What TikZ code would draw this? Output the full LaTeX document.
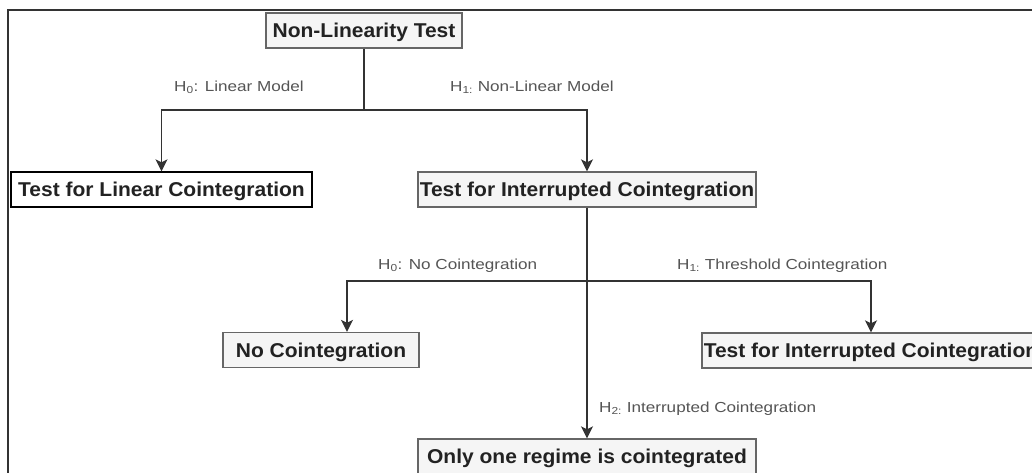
\documentclass[tikz,border=0pt]{standalone}
\usepackage{fontspec}
\setmainfont{Liberation Sans}
\newfontfamily\boxfont[FakeStretch=1.05]{Liberation Sans}
\newfontfamily\labfont[FakeStretch=1.18]{Liberation Sans}
\usetikzlibrary{arrows.meta}
\definecolor{boxfill}{HTML}{F5F5F5}
\definecolor{boxline}{HTML}{666666}
\definecolor{linecol}{HTML}{333333}
\definecolor{textdark}{HTML}{222222}
\definecolor{labgray}{HTML}{555555}
\begin{document}
\begin{tikzpicture}[x=1pt,y=-1pt,
  box/.style={draw=boxline, fill=boxfill, line width=1.3pt, inner sep=0pt,
    minimum height=35pt, text height=14pt, text depth=0pt,
    font=\boxfont\bfseries\fontsize{20}{24}\selectfont, text=textdark},
  lab/.style={font=\labfont\fontsize{14.5}{17}\selectfont, text=labgray,
    inner sep=0pt, anchor=base west},
  conn/.style={draw=linecol, line width=1.6pt},
  arr/.style={conn, -{Stealth[length=12pt,width=12pt,inset=3pt]}}]
\useasboundingbox (0,0) rectangle (1032,472);
\clip (0,0) rectangle (1032,472);
\fill[white] (0,0) rectangle (1032,472);
\draw[line width=1.6pt, draw=linecol] (8,480) -- (8,10) -- (1040,10);

\node[box, minimum width=196pt] (nlt) at (364,30.5) {Non-Linearity Test};
\node[box, fill=white, draw=black, minimum width=301pt] (tlc) at (161.5,189.5) {Test for Linear Cointegration};
\node[box, minimum width=338pt] (tic) at (587,189.5) {Test for Interrupted Cointegration};
\node[box, minimum width=196pt] (nc) at (321,350) {No Cointegration};
\node[box, minimum width=338pt] (tic2) at (871,350.5) {Test for Interrupted Cointegration};
\node[box, minimum width=338pt] (one) at (587,456.5) {Only one regime is cointegrated};

\coordinate (j1) at (364,110);
\coordinate (j2) at (587,281);
\draw[conn] (nlt.south) -- (j1);
\draw[arr] (j1) -| (tlc.north);
\draw[arr] (j1) -| (tic.north);
\draw[arr] (tic.south) -- (one.north);
\draw[arr] (j2) -| ([xshift=26pt]nc.north);
\draw[arr] (j2) -| (tic2.north);

\node[lab] (l1) at (174,91) {H\textsubscript{0}: Linear Model};
\node[lab] (l2) at (450,91) {H\textsubscript{1:} Non-Linear Model};
\node[lab] (l3) at (378,269) {H\textsubscript{0}: No Cointegration};
\node[lab] (l4) at (677,269) {H\textsubscript{1:} Threshold Cointegration};
\node[lab] (l5) at (599,412) {H\textsubscript{2:} Interrupted Cointegration};
\end{tikzpicture}
\end{document}
